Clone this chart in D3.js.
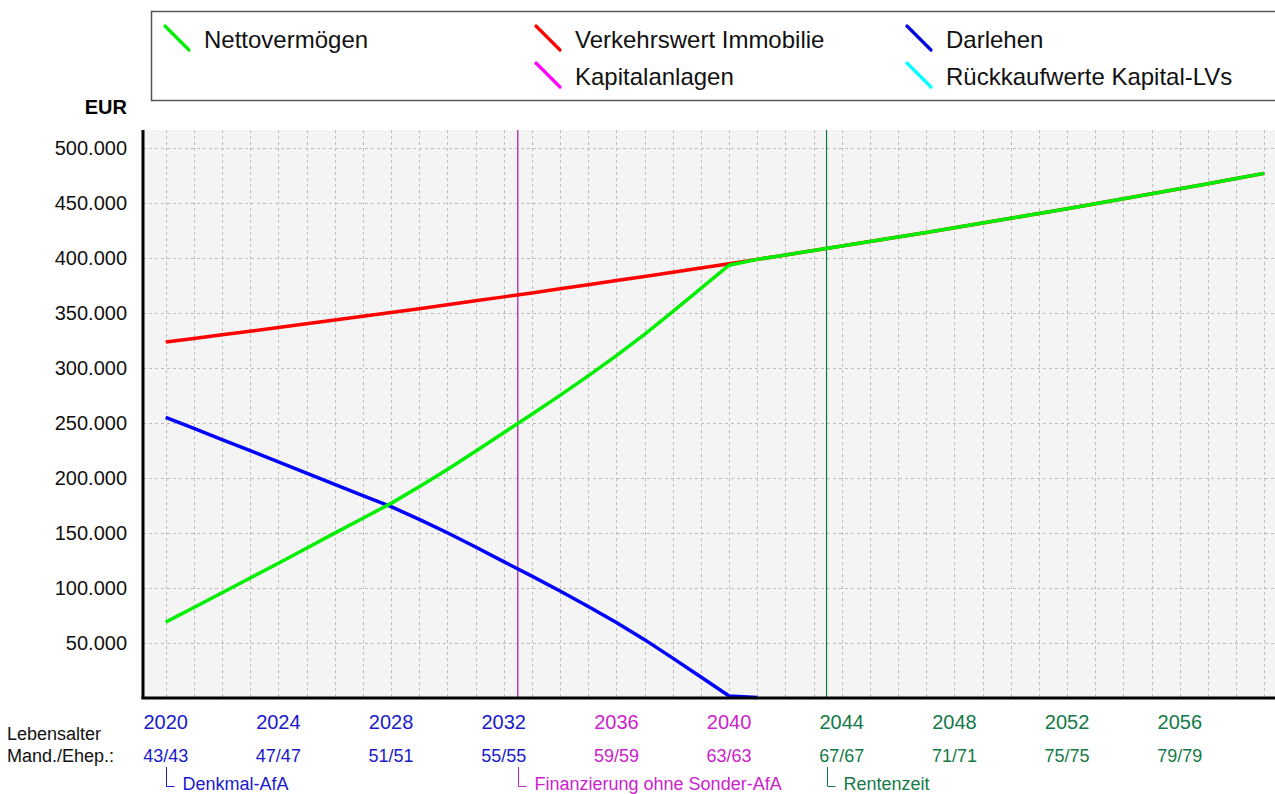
<!DOCTYPE html>
<html>
<head>
<meta charset="utf-8">
<script src="https://cdn.jsdelivr.net/npm/d3@7"></script>
<style>
  body { margin: 0; background: #fff; }
  svg { display: block; font-family: "Liberation Sans", Arial, sans-serif; }
</style>
</head>
<body>
<svg id="chart" width="1275" height="794"></svg>
<script>
// years shown on the x axis
const years = d3.range(2020, 2060);

// Verkehrswert Immobilie (EUR)
const verkehrswert = [
  323200, 326400, 329700, 333000, 336300, 339700, 343100, 346500, 350000, 353500,
  357000, 360600, 364200, 367800, 371500, 375200, 379000, 382800, 386600, 390500,
  394400, 398300, 402300, 406300, 410400, 414500, 418600, 422800, 427100, 431300,
  435700, 440000, 444400, 448900, 453400, 457900, 462500, 467100, 471800, 476500
];

// Darlehen (EUR), 2020 - 2041
const darlehen = [
  254700, 244600, 234500, 224400, 214300, 204000, 193700, 183500, 173500, 162000,
  149800, 136800, 123500, 110300, 96800, 82800, 68200, 52600, 35800, 18600,
  1400, 0
];

// Nettovermoegen (EUR)
const netto = [
  68500, 81800, 95200, 108600, 122000, 135700, 149400, 163000, 176500, 191500,
  207200, 223800, 240700, 257500, 274700, 292400, 310800, 330200, 350800, 371900,
  393000, 398300, 402300, 406300, 410400, 414500, 418600, 422800, 427100, 431300,
  435700, 440000, 444400, 448900, 453400, 457900, 462500, 467100, 471800, 476500
];

const yTicks = [50000, 100000, 150000, 200000, 250000, 300000, 350000, 400000, 450000, 500000];
const tickYears = [2020, 2024, 2028, 2032, 2036, 2040, 2044, 2048, 2052, 2056];
const ageLabels = ["43/43", "47/47", "51/51", "55/55", "59/59", "63/63", "67/67", "71/71", "75/75", "79/79"];

// phases: start year, label
const phases = [
  { start: 2020, label: "Denkmal-AfA", color: "#1a1acc", line: false },
  { start: 2032.5, label: "Finanzierung ohne Sonder-AfA", color: "#cc22cc", line: "#a814a8" },
  { start: 2043.46, label: "Rentenzeit", color: "#137a47", line: "#0b7a42" }
];

const legendItems = [
  { name: "Nettovermögen", color: "#00ee00", col: 0, row: 0 },
  { name: "Verkehrswert Immobilie", color: "#ff0000", col: 1, row: 0 },
  { name: "Darlehen", color: "#0000dd", col: 2, row: 0 },
  { name: "Kapitalanlagen", color: "#ff00ff", col: 1, row: 1 },
  { name: "Rückkaufwerte Kapital-LVs", color: "#00ffff", col: 2, row: 1 }
];

const plot = { left: 143, top: 130, right: 1275, bottom: 698 };

const svg = d3.select("#chart");

const x = d3.scaleLinear().domain([2020, 2059]).range([165.7, 1264.3]);
const y = d3.scaleLinear().domain([0, 500000]).range([697.5, 147.5]);

const de = d3.formatLocale({ decimal: ",", thousands: ".", grouping: [3], currency: ["", " €"] });
const fmt = de.format(",.0f");

// plot background
svg.append("rect")
  .attr("x", plot.left).attr("y", plot.top)
  .attr("width", plot.right - plot.left).attr("height", plot.bottom - plot.top)
  .attr("fill", "#f4f4f4");

// grid
const grid = svg.append("g").attr("stroke", "#bdbdbd").attr("stroke-width", 1).attr("stroke-dasharray", "3,3");
grid.selectAll("line.v").data(years).join("line")
  .attr("class", "v")
  .attr("x1", d => Math.round(x(d)) + 0.5).attr("x2", d => Math.round(x(d)) + 0.5)
  .attr("y1", plot.top).attr("y2", plot.bottom);
grid.selectAll("line.h").data(yTicks).join("line")
  .attr("class", "h")
  .attr("x1", plot.left).attr("x2", plot.right)
  .attr("y1", d => Math.round(y(d)) + 0.5).attr("y2", d => Math.round(y(d)) + 0.5);

// phase lines
phases.filter(p => p.line).forEach(p => {
  svg.append("line")
    .attr("x1", x(p.start)).attr("x2", x(p.start))
    .attr("y1", plot.top).attr("y2", plot.bottom)
    .attr("stroke", p.line).attr("stroke-width", 1.2);
});

// series
const line = d3.line().x((d, i) => x(years[i])).y(d => y(d));
svg.append("path").datum(verkehrswert).attr("d", line)
  .attr("fill", "none").attr("stroke", "#ff0000").attr("stroke-width", 3.5);
svg.append("path").datum(darlehen).attr("d", line)
  .attr("fill", "none").attr("stroke", "#0000ff").attr("stroke-width", 3.5);
svg.append("path").datum(netto).attr("d", line)
  .attr("fill", "none").attr("stroke", "#00ee00").attr("stroke-width", 3.5);

// axes lines
svg.append("line").attr("x1", plot.left).attr("x2", plot.left)
  .attr("y1", plot.top).attr("y2", plot.bottom + 1)
  .attr("stroke", "#000").attr("stroke-width", 3);
svg.append("line").attr("x1", plot.left - 1.5).attr("x2", plot.right)
  .attr("y1", plot.bottom).attr("y2", plot.bottom)
  .attr("stroke", "#000").attr("stroke-width", 3);

// y labels
svg.append("g").selectAll("text").data(yTicks).join("text")
  .attr("x", 127).attr("y", d => y(d))
  .attr("dy", "0.36em")
  .attr("text-anchor", "end")
  .attr("font-size", 20)
  .attr("fill", "#111")
  .text(d => fmt(d));

svg.append("text").attr("x", 127).attr("y", 114)
  .attr("text-anchor", "end").attr("font-size", 20).attr("font-weight", "bold")
  .text("EUR");

// phase colour for a year
const phaseColor = yr => {
  let c = phases[0].color;
  phases.forEach(p => { if (yr >= p.start) c = p.color; });
  return c;
};

// x labels
svg.append("g").selectAll("text").data(tickYears).join("text")
  .attr("x", d => x(d)).attr("y", 729)
  .attr("text-anchor", "middle").attr("font-size", 20)
  .attr("fill", d => phaseColor(d))
  .text(d => d);

svg.append("g").selectAll("text").data(ageLabels).join("text")
  .attr("x", (d, i) => x(tickYears[i])).attr("y", 762)
  .attr("text-anchor", "middle").attr("font-size", 18)
  .attr("fill", (d, i) => phaseColor(tickYears[i]))
  .text(d => d);

svg.append("text").attr("x", 7).attr("y", 740).attr("font-size", 18).attr("fill", "#111").text("Lebensalter");
svg.append("text").attr("x", 7).attr("y", 762).attr("font-size", 18).attr("fill", "#111").text("Mand./Ehep.:");

// phase labels
phases.forEach(p => {
  const px = Math.round(x(p.start)) + 0.5;
  svg.append("path")
    .attr("d", `M${px},767V786.5H${px + 8}`)
    .attr("fill", "none").attr("stroke", p.color).attr("stroke-width", 1);
  svg.append("text").attr("x", px + 16).attr("y", 790)
    .attr("font-size", 18).attr("fill", p.color).text(p.label);
});

// legend
svg.append("rect").attr("x", 151.5).attr("y", 11.5).attr("width", 1140).attr("height", 89)
  .attr("fill", "#fff").attr("stroke", "#555").attr("stroke-width", 1.5);
const colX = [165, 536, 907];
const rowY = [26, 63];
const lg = svg.append("g").selectAll("g").data(legendItems).join("g")
  .attr("transform", d => `translate(${colX[d.col]},${rowY[d.row]})`);
lg.append("line").attr("x1", 0).attr("y1", 0).attr("x2", 24).attr("y2", 24)
  .attr("stroke", d => d.color).attr("stroke-width", 3.2).attr("stroke-linecap", "round");
lg.append("text").attr("x", 39).attr("y", 22).attr("font-size", 24).attr("fill", "#111")
  .text(d => d.name);
</script>
</body>
</html>
